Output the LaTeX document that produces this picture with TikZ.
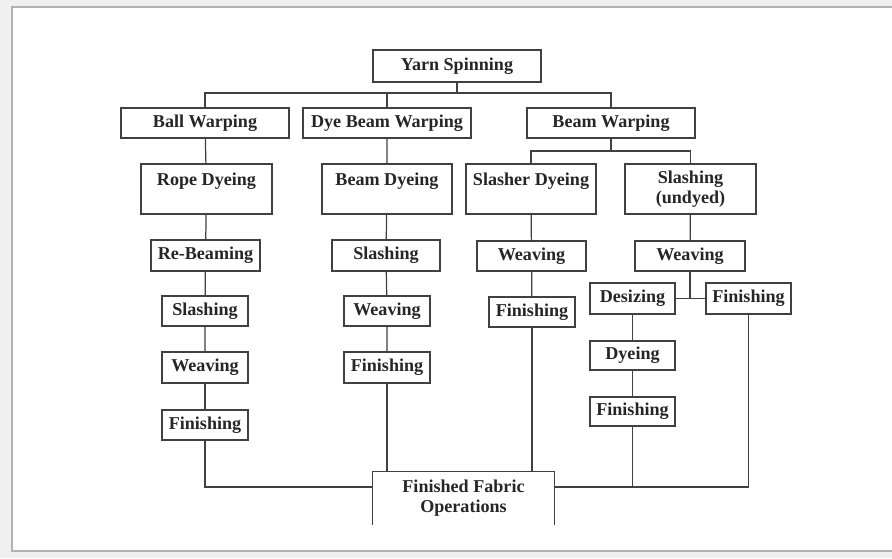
\documentclass[tikz,border=0pt]{standalone}
\usepackage{fontspec}
\setmainfont{Liberation Serif}
\usetikzlibrary{calc}

\newcommand{\px}{0.02cm}
\tikzset{
    stage/.style={draw=black!75, line width=0.7pt, fill=white, inner sep=0pt, align=center,
        text=black!85, font=\fontsize{10.3}{11.3}\selectfont\bfseries},
    sz/.style 2 args={minimum width=#1*\px, minimum height=#2*\px},
    link/.style={draw=black!75, line width=0.7pt},
}

\begin{document}
\begin{tikzpicture}[x=\px, y=-\px]
    \useasboundingbox (0,0) rectangle (892,558);
    % page frame
    \fill[black!6] (0,0) rectangle (892,558);
    \filldraw[fill=white, draw=black!30, line width=1pt] (12,7) rectangle (900,551);

    % top
    \node[stage, sz={168}{32}] (yarn) at (457,66) {Yarn Spinning};
    \node[stage, sz={168}{30}] (ball) at (205,123) {Ball Warping};
    \node[stage, sz={168}{30}] (dyew) at (387,123) {Dye Beam Warping};
    \node[stage, sz={168}{30}] (beamw) at (611,123) {Beam Warping};
    % dyeing row
    \node[stage, sz={131}{50}] (rope) at (206.5,189) {Rope Dyeing\\\mbox{}};
    \node[stage, sz={130}{50}] (beamd) at (387,189) {Beam Dyeing\\\mbox{}};
    \node[stage, sz={130}{50}] (slasherd) at (531,189) {Slasher Dyeing\\\mbox{}};
    \node[stage, sz={131}{50}] (slashu) at (690.5,189) {Slashing\\(undyed)};
    % ball warping column
    \node[stage, sz={109}{31}] (rebeam) at (205.5,255.5) {Re-Beaming};
    \node[stage, sz={86}{30}] (slash1) at (205,311) {Slashing};
    \node[stage, sz={86}{31}] (weave1) at (205,367.5) {Weaving};
    \node[stage, sz={86}{30}] (fin1) at (205,425) {Finishing};
    % dye beam column
    \node[stage, sz={108}{31}] (slash2) at (386,255.5) {Slashing};
    \node[stage, sz={86}{30}] (weave2) at (387,311) {Weaving};
    \node[stage, sz={86}{31}] (fin2) at (387,367.5) {Finishing};
    % slasher column
    \node[stage, sz={109}{30}] (weave3) at (531.5,256) {Weaving};
    \node[stage, sz={86}{30}] (fin5) at (532,312) {Finishing};
    % undyed column
    \node[stage, sz={110}{30}] (weave4) at (690,256) {Weaving};
    \node[stage, sz={85}{31}] (desize) at (632.5,298.5) {Desizing};
    \node[stage, sz={85}{31}] (fin4) at (748.5,298.5) {Finishing};
    \node[stage, sz={85}{29}] (dye) at (632.5,355.5) {Dyeing};
    \node[stage, sz={85}{29}] (fin3) at (632.5,411.5) {Finishing};
    % end
    \node[stage, draw=none, sz={181}{52}] (ffo) at (463.5,498) {Finished Fabric\\Operations};
    \draw[link] (ffo.south west) -- (ffo.north west) -- (ffo.north east) -- (ffo.south east);

    \coordinate (topbar) at (457,93);
    \coordinate (beambar) at (611,151);
    \coordinate (botbar) at (463.5,487);

    \draw[link] (yarn) -- (topbar);
    \draw[link] (ball.north) |- (topbar) -| (beamw.north);
    \draw[link] (dyew.north) -- (dyew.north |- topbar);
    \draw[link] (beamw) -- (beambar);
    \draw[link] (slasherd.north) |- (beambar) -| (slashu.north);

    \draw[link] (ball) -- (rope) -- (rebeam) -- (slash1) -- (weave1);
    \draw[link, line width=1.4pt] (weave1) -- (fin1);
    \draw[link] (fin1.south) |- (ffo.west |- botbar);

    \draw[link] (dyew) -- (beamd) -- (slash2) -- (weave2) -- (fin2);
    \draw[link] (fin2.south) -- (fin2.south |- ffo.north);

    \draw[link] (slasherd) -- (weave3) -- (fin5);
    \draw[link] (fin5.south) -- (fin5.south |- ffo.north);

    \draw[link] (slashu) -- (weave4);
    \draw[link] (weave4.south) -- (weave4.south |- desize.east);
    \draw[link] (desize.east) -- (fin4.west);
    \draw[link] (desize) -- (dye) -- (fin3);
    \draw[link] (fin3.south) -- (fin3.south |- botbar);
    \draw[link] (ffo.east |- botbar) -| (fin4.south);
\end{tikzpicture}
\end{document}
